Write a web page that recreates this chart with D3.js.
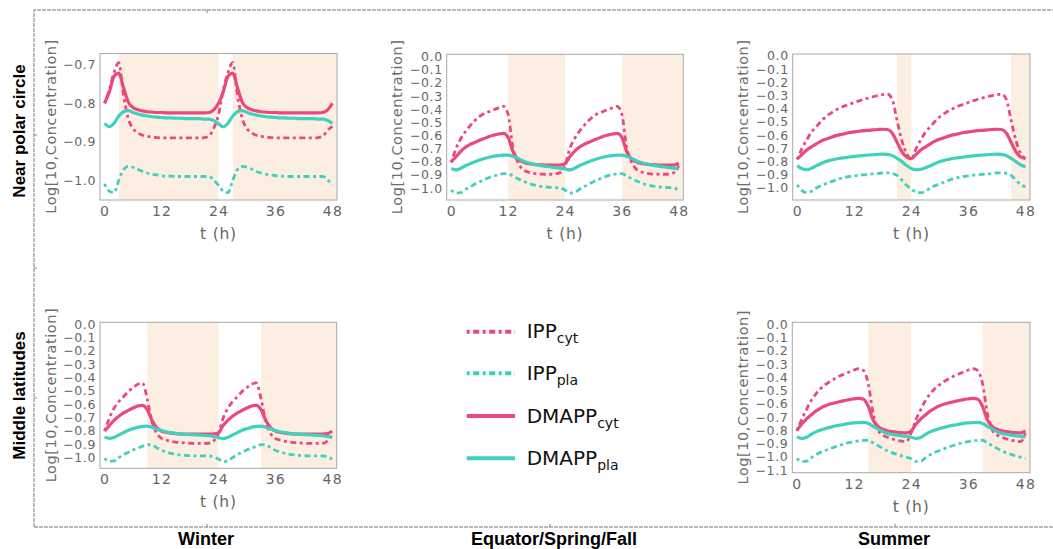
<!DOCTYPE html>
<html>
<head>
<meta charset="utf-8">
<script src="https://cdn.jsdelivr.net/npm/d3@7"></script>
<style>
  body { margin: 0; background: #fff; }
  svg { display: block; }
</style>
</head>
<body>
<div id="viz"></div>
<script>

// time axis, one value per hour
const hours = [0,1,2,3,4,5,6,7,8,9,10,11,12,13,14,15,16,17,18,19,20,21,22,23,24,
  25,26,27,28,29,30,31,32,33,34,35,36,37,38,39,40,41,42,43,44,45,46,47,48];

const xTicks = [0, 12, 24, 36, 48];
const pwTicks = [-0.7, -0.8, -0.9, -1.0];
const tenthTicks = [0, -0.1, -0.2, -0.3, -0.4, -0.5, -0.6, -0.7, -0.8, -0.9, -1.0];
const msuTicks = [0, -0.1, -0.2, -0.3, -0.4, -0.5, -0.6, -0.7, -0.8, -0.9, -1.0, -1.1];

// dark periods (h)
const pwDark = [[3, 24], [27, 49]];
const peqDark = [[12, 24], [36, 49]];
const psuDark = [[21, 24], [45, 49]];
const mwiDark = [[9, 24], [33, 49]];
const msuDark = [[15, 24], [39, 49]];

// near polar circle, winter
const pwIppCyt = [-0.80,-0.765,-0.72,-0.695,-0.78,-0.84,-0.866,-0.877,-0.883,-0.886,-0.888,-0.889,-0.89,-0.89,-0.89,-0.89,-0.89,-0.89,-0.89,-0.89,-0.89,-0.889,-0.885,-0.865,-0.83,
  -0.765,-0.72,-0.695,-0.78,-0.84,-0.866,-0.877,-0.883,-0.886,-0.888,-0.889,-0.89,-0.89,-0.89,-0.89,-0.89,-0.89,-0.89,-0.89,-0.89,-0.889,-0.885,-0.87,-0.86];
const pwIppPla = [-1.009,-1.028,-1.032,-1.0,-0.972,-0.964,-0.966,-0.971,-0.977,-0.981,-0.984,-0.986,-0.988,-0.989,-0.989,-0.99,-0.99,-0.99,-0.99,-0.99,-0.99,-0.99,-0.99,-0.999,-1.013,
  -1.028,-1.032,-1.0,-0.972,-0.964,-0.966,-0.971,-0.977,-0.981,-0.984,-0.986,-0.988,-0.989,-0.989,-0.99,-0.99,-0.99,-0.99,-0.99,-0.99,-0.99,-0.99,-0.999,-1.012];
const pwDmappCyt = [-0.80,-0.771,-0.73,-0.722,-0.76,-0.797,-0.811,-0.817,-0.82,-0.822,-0.823,-0.824,-0.824,-0.825,-0.825,-0.825,-0.825,-0.825,-0.825,-0.825,-0.825,-0.825,-0.824,-0.817,-0.80,
  -0.771,-0.73,-0.722,-0.76,-0.797,-0.811,-0.817,-0.82,-0.822,-0.823,-0.824,-0.824,-0.825,-0.825,-0.825,-0.825,-0.825,-0.825,-0.825,-0.825,-0.825,-0.824,-0.817,-0.80];
const pwDmappPla = [-0.852,-0.861,-0.852,-0.833,-0.822,-0.819,-0.824,-0.828,-0.831,-0.833,-0.835,-0.836,-0.837,-0.838,-0.838,-0.839,-0.839,-0.84,-0.84,-0.84,-0.84,-0.841,-0.841,-0.845,-0.853,
  -0.861,-0.852,-0.833,-0.822,-0.819,-0.824,-0.828,-0.831,-0.833,-0.835,-0.836,-0.837,-0.838,-0.838,-0.839,-0.839,-0.84,-0.84,-0.84,-0.84,-0.841,-0.841,-0.845,-0.852];

// near polar circle, equator/spring/fall
const peqIppCyt = [-0.807,-0.70,-0.625,-0.57,-0.525,-0.485,-0.455,-0.432,-0.418,-0.403,-0.39,-0.378,-0.44,-0.69,-0.80,-0.855,-0.876,-0.886,-0.892,-0.894,-0.895,-0.895,-0.893,-0.882,-0.83,
  -0.70,-0.625,-0.57,-0.525,-0.485,-0.455,-0.432,-0.418,-0.403,-0.39,-0.378,-0.44,-0.69,-0.80,-0.855,-0.876,-0.886,-0.892,-0.894,-0.895,-0.895,-0.893,-0.882,-0.83];
const peqIppPla = [-1.015,-1.038,-1.035,-1.01,-0.99,-0.97,-0.952,-0.935,-0.92,-0.908,-0.898,-0.891,-0.89,-0.908,-0.928,-0.945,-0.96,-0.972,-0.981,-0.988,-0.992,-0.995,-0.997,-1.0,-1.015,
  -1.038,-1.035,-1.01,-0.99,-0.97,-0.952,-0.935,-0.92,-0.908,-0.898,-0.891,-0.89,-0.908,-0.928,-0.945,-0.96,-0.972,-0.981,-0.988,-0.992,-0.995,-0.997,-1.0,-1.018];
const peqDmappCyt = [-0.80,-0.762,-0.72,-0.69,-0.668,-0.652,-0.636,-0.622,-0.607,-0.597,-0.589,-0.584,-0.615,-0.72,-0.78,-0.80,-0.812,-0.818,-0.822,-0.824,-0.825,-0.826,-0.826,-0.825,-0.815,
  -0.762,-0.72,-0.69,-0.668,-0.652,-0.636,-0.622,-0.607,-0.597,-0.589,-0.584,-0.615,-0.72,-0.78,-0.80,-0.812,-0.818,-0.822,-0.824,-0.825,-0.826,-0.826,-0.825,-0.81];
const peqDmappPla = [-0.852,-0.862,-0.85,-0.83,-0.815,-0.80,-0.787,-0.775,-0.766,-0.758,-0.753,-0.75,-0.75,-0.758,-0.772,-0.79,-0.805,-0.815,-0.823,-0.83,-0.835,-0.84,-0.845,-0.85,-0.855,
  -0.862,-0.85,-0.83,-0.815,-0.80,-0.787,-0.775,-0.766,-0.758,-0.753,-0.75,-0.75,-0.758,-0.772,-0.79,-0.805,-0.815,-0.823,-0.83,-0.835,-0.84,-0.845,-0.85,-0.855];

// near polar circle, summer
const psuIppCyt = [-0.785,-0.70,-0.635,-0.575,-0.535,-0.495,-0.46,-0.435,-0.412,-0.395,-0.378,-0.365,-0.352,-0.34,-0.328,-0.318,-0.308,-0.30,-0.292,-0.29,-0.33,-0.49,-0.64,-0.74,-0.785,
  -0.70,-0.635,-0.575,-0.535,-0.495,-0.46,-0.435,-0.412,-0.395,-0.378,-0.365,-0.352,-0.34,-0.328,-0.318,-0.308,-0.30,-0.292,-0.29,-0.33,-0.49,-0.64,-0.74,-0.78];
const psuIppPla = [-0.975,-1.02,-1.035,-1.025,-1.0,-0.982,-0.968,-0.955,-0.94,-0.928,-0.92,-0.913,-0.908,-0.903,-0.90,-0.896,-0.893,-0.89,-0.886,-0.885,-0.89,-0.905,-0.94,-0.98,-1.01,
  -1.03,-1.035,-1.025,-1.0,-0.982,-0.968,-0.955,-0.94,-0.928,-0.92,-0.913,-0.908,-0.903,-0.90,-0.896,-0.893,-0.89,-0.886,-0.885,-0.89,-0.905,-0.94,-0.975,-0.99];
const psuDmappCyt = [-0.78,-0.745,-0.712,-0.688,-0.665,-0.645,-0.63,-0.617,-0.605,-0.596,-0.588,-0.58,-0.575,-0.57,-0.566,-0.563,-0.56,-0.557,-0.555,-0.557,-0.585,-0.655,-0.725,-0.765,-0.778,
  -0.745,-0.712,-0.688,-0.665,-0.645,-0.63,-0.617,-0.605,-0.596,-0.588,-0.58,-0.575,-0.57,-0.566,-0.563,-0.56,-0.557,-0.555,-0.557,-0.585,-0.655,-0.725,-0.765,-0.775];
const psuDmappPla = [-0.83,-0.855,-0.862,-0.85,-0.832,-0.815,-0.80,-0.79,-0.782,-0.775,-0.77,-0.765,-0.76,-0.757,-0.753,-0.75,-0.748,-0.745,-0.743,-0.745,-0.755,-0.775,-0.80,-0.83,-0.852,
  -0.862,-0.858,-0.847,-0.832,-0.815,-0.80,-0.79,-0.782,-0.775,-0.77,-0.765,-0.76,-0.757,-0.753,-0.75,-0.748,-0.745,-0.743,-0.745,-0.755,-0.775,-0.80,-0.825,-0.84];

// middle latitudes, winter
const mwiIppCyt = [-0.80,-0.705,-0.63,-0.58,-0.543,-0.505,-0.475,-0.45,-0.44,-0.56,-0.73,-0.818,-0.855,-0.868,-0.877,-0.883,-0.887,-0.89,-0.892,-0.893,-0.893,-0.893,-0.892,-0.875,-0.82,
  -0.705,-0.63,-0.58,-0.543,-0.505,-0.475,-0.45,-0.44,-0.56,-0.73,-0.818,-0.855,-0.868,-0.877,-0.883,-0.887,-0.89,-0.892,-0.893,-0.893,-0.893,-0.892,-0.875,-0.83];
const mwiIppPla = [-1.005,-1.028,-1.025,-1.0,-0.978,-0.96,-0.943,-0.928,-0.915,-0.902,-0.905,-0.925,-0.945,-0.958,-0.968,-0.975,-0.98,-0.983,-0.985,-0.987,-0.987,-0.987,-0.987,-0.995,-1.01,
  -1.03,-1.025,-1.0,-0.978,-0.96,-0.943,-0.928,-0.915,-0.902,-0.905,-0.925,-0.945,-0.958,-0.968,-0.975,-0.98,-0.983,-0.985,-0.987,-0.987,-0.987,-0.987,-0.995,-1.01];
const mwiDmappCyt = [-0.80,-0.76,-0.72,-0.69,-0.665,-0.645,-0.628,-0.613,-0.608,-0.64,-0.72,-0.775,-0.80,-0.81,-0.816,-0.82,-0.822,-0.824,-0.824,-0.824,-0.824,-0.824,-0.824,-0.822,-0.815,
  -0.76,-0.72,-0.69,-0.665,-0.645,-0.628,-0.613,-0.608,-0.64,-0.72,-0.775,-0.80,-0.81,-0.816,-0.82,-0.822,-0.824,-0.824,-0.824,-0.824,-0.824,-0.824,-0.82,-0.80];
const mwiDmappPla = [-0.845,-0.855,-0.848,-0.83,-0.812,-0.795,-0.783,-0.773,-0.766,-0.764,-0.772,-0.785,-0.797,-0.806,-0.813,-0.818,-0.822,-0.825,-0.827,-0.829,-0.831,-0.833,-0.836,-0.842,-0.85,
  -0.858,-0.848,-0.83,-0.812,-0.795,-0.783,-0.773,-0.766,-0.764,-0.772,-0.785,-0.797,-0.806,-0.813,-0.818,-0.822,-0.825,-0.827,-0.829,-0.831,-0.833,-0.836,-0.842,-0.848];

// middle latitudes, summer
const msuIppCyt = [-0.805,-0.72,-0.645,-0.575,-0.525,-0.485,-0.455,-0.43,-0.41,-0.39,-0.375,-0.36,-0.345,-0.335,-0.35,-0.45,-0.67,-0.795,-0.835,-0.852,-0.865,-0.875,-0.882,-0.885,-0.82,
  -0.72,-0.645,-0.575,-0.525,-0.485,-0.455,-0.43,-0.41,-0.39,-0.375,-0.36,-0.345,-0.335,-0.35,-0.45,-0.67,-0.795,-0.835,-0.852,-0.865,-0.875,-0.882,-0.885,-0.82];
const msuIppPla = [-1.012,-1.035,-1.033,-1.008,-0.985,-0.966,-0.952,-0.938,-0.925,-0.913,-0.902,-0.893,-0.886,-0.88,-0.876,-0.875,-0.895,-0.915,-0.935,-0.955,-0.97,-0.982,-0.993,-1.003,-1.015,
  -1.035,-1.033,-1.008,-0.985,-0.966,-0.952,-0.938,-0.925,-0.913,-0.902,-0.893,-0.886,-0.88,-0.876,-0.875,-0.895,-0.915,-0.935,-0.955,-0.97,-0.982,-0.993,-1.003,-1.013];
const msuDmappCyt = [-0.80,-0.755,-0.715,-0.685,-0.655,-0.632,-0.615,-0.602,-0.592,-0.584,-0.576,-0.568,-0.563,-0.559,-0.565,-0.62,-0.72,-0.77,-0.792,-0.803,-0.81,-0.815,-0.818,-0.82,-0.805,
  -0.755,-0.715,-0.685,-0.655,-0.632,-0.615,-0.602,-0.592,-0.584,-0.576,-0.568,-0.563,-0.559,-0.565,-0.62,-0.72,-0.77,-0.792,-0.803,-0.81,-0.815,-0.818,-0.82,-0.805];
const msuDmappPla = [-0.85,-0.862,-0.855,-0.83,-0.812,-0.798,-0.786,-0.777,-0.768,-0.761,-0.755,-0.748,-0.744,-0.741,-0.74,-0.748,-0.77,-0.79,-0.81,-0.823,-0.831,-0.837,-0.842,-0.846,-0.852,
  -0.862,-0.855,-0.83,-0.812,-0.798,-0.786,-0.777,-0.768,-0.761,-0.755,-0.748,-0.744,-0.741,-0.74,-0.748,-0.77,-0.79,-0.81,-0.823,-0.831,-0.837,-0.842,-0.846,-0.85];

const legendNames = ["IPP", "IPP", "DMAPP", "DMAPP"];
const legendSubs = ["cyt", "pla", "cyt", "pla"];
const rowLabels = ["Near polar circle", "Middle latitudes"];
const colLabels = ["Winter", "Equator/Spring/Fall", "Summer"];

let pink = "#e9497d";
let teal = "#3fd1bd";
let shade = "#fdeee2";
let dotDash = "3,3.5,6,3.5";
let fontMain = "'DejaVu Sans', sans-serif";

// IPPcyt, IPPpla, DMAPPcyt, DMAPPpla
let styles = [
  { color: pink, dash: dotDash, width: 2.8 },
  { color: teal, dash: dotDash, width: 2.8 },
  { color: pink, dash: null, width: 3.2 },
  { color: teal, dash: null, width: 3.2 }
];

let svg = d3.select("#viz").append("svg")
  .attr("width", 1053)
  .attr("height", 549)
  .style("font-family", fontMain);

// outer frame
svg.append("path")
  .attr("d", "M34,527V10H1053M34,527H1053")
  .attr("fill", "none")
  .attr("stroke", "#a2a2a2")
  .attr("stroke-width", 1.4)
  .attr("stroke-dasharray", "4,1");

let frameTicks = [
  [207, 10, 207, 13], [207, 527, 207, 524], [550, 527, 550, 524], [895, 527, 895, 524],
  [34, 135, 37, 135], [34, 268, 37, 268], [34, 398, 37, 398]
];
svg.selectAll(".ftick").data(frameTicks).enter().append("line")
  .attr("x1", d => d[0]).attr("y1", d => d[1]).attr("x2", d => d[2]).attr("y2", d => d[3])
  .attr("stroke", "#888").attr("stroke-width", 1);

let panels = [
  { left: 100, right: 337, top: 53.5, bottom: 200, yDomain: [-1.051, -0.671], yTicks: pwTicks, dark: pwDark,
    series: [pwIppCyt, pwIppPla, pwDmappCyt, pwDmappPla] },
  { left: 446.7, right: 683.3, top: 54.3, bottom: 200, yDomain: [-1.091, 0.018], yTicks: tenthTicks, dark: peqDark,
    series: [peqIppCyt, peqIppPla, peqDmappCyt, peqDmappPla] },
  { left: 792.7, right: 1030, top: 54, bottom: 200, yDomain: [-1.091, 0.015], yTicks: tenthTicks, dark: psuDark,
    series: [psuIppCyt, psuIppPla, psuDmappCyt, psuDmappPla] },
  { left: 100, right: 336.7, top: 322.3, bottom: 468.3, yDomain: [-1.08, 0.015], yTicks: tenthTicks, dark: mwiDark,
    series: [mwiIppCyt, mwiIppPla, mwiDmappCyt, mwiDmappPla] },
  { left: 792.3, right: 1030, top: 322.3, bottom: 472.7, yDomain: [-1.12, 0.015], yTicks: msuTicks, dark: msuDark,
    series: [msuIppCyt, msuIppPla, msuDmappCyt, msuDmappPla] }
];

panels.forEach(function(p, i) {
  let xScale = d3.scaleLinear().domain([-0.96, 48.96]).range([p.left, p.right]);
  let yScale = d3.scaleLinear().domain(p.yDomain).range([p.bottom, p.top]);

  let g = svg.append("g");

  g.append("clipPath").attr("id", "clip" + i)
    .append("rect")
    .attr("x", p.left).attr("y", p.top)
    .attr("width", p.right - p.left).attr("height", p.bottom - p.top);

  let inner = g.append("g").attr("clip-path", `url(#clip${i})`);

  inner.selectAll(".dark")
    .data(p.dark)
    .enter().append("rect")
    .attr("x", d => xScale(d[0]))
    .attr("width", d => xScale(d[1]) - xScale(d[0]))
    .attr("y", p.top)
    .attr("height", p.bottom - p.top)
    .attr("fill", shade);

  let line = d3.line()
    .x((d, k) => xScale(hours[k]))
    .y(d => yScale(d))
    .curve(d3.curveMonotoneX);

  p.series.forEach(function(s, k) {
    inner.append("path")
      .datum(s)
      .attr("fill", "none")
      .attr("stroke", styles[k].color)
      .attr("stroke-width", styles[k].width)
      .attr("stroke-dasharray", styles[k].dash)
      .attr("d", line);
  });

  g.append("rect")
    .attr("x", p.left).attr("y", p.top)
    .attr("width", p.right - p.left).attr("height", p.bottom - p.top)
    .attr("fill", "none")
    .attr("stroke", "#a8a8a8")
    .attr("stroke-width", 1);

  let yAxis = g.append("g")
    .attr("transform", `translate(${p.left},0)`)
    .call(d3.axisLeft(yScale).tickValues(p.yTicks).tickFormat(d3.format(".1f")).tickSize(0).tickPadding(4))
    .attr("font-family", fontMain);
  yAxis.select(".domain").remove();
  yAxis.selectAll("text")
    .style("font-size", "12.5px")
    .style("letter-spacing", "0.6px")
    .attr("fill", "#666");

  let xAxis = g.append("g")
    .attr("transform", `translate(0,${p.bottom})`)
    .call(d3.axisBottom(xScale).tickValues(xTicks).tickSize(0).tickPadding(6))
    .attr("font-family", fontMain);
  xAxis.select(".domain").remove();
  xAxis.selectAll("text")
    .style("font-size", "14px")
    .style("letter-spacing", "1.2px")
    .attr("fill", "#666");

  g.append("text")
    .attr("transform", `translate(${p.left - 44.5},${(p.top + p.bottom) / 2}) rotate(-90)`)
    .attr("text-anchor", "middle")
    .attr("textLength", 174)
    .attr("lengthAdjust", "spacing")
    .style("font-size", "14.5px")
    .attr("fill", "#6e6e6e")
    .text("Log[10,Concentration]");

  g.append("text")
    .attr("x", (p.left + p.right) / 2)
    .attr("y", p.bottom + 39)
    .attr("text-anchor", "middle")
    .style("font-size", "15.5px")
    .style("letter-spacing", "0.8px")
    .attr("fill", "#666")
    .text("t (h)");
});

// legend
let legendRows = [331.7, 373.3, 416, 458.3];
let legend = svg.append("g");
legendNames.forEach(function(name, k) {
  legend.append("line")
    .attr("x1", 466.7).attr("x2", 515)
    .attr("y1", legendRows[k]).attr("y2", legendRows[k])
    .attr("stroke", styles[k].color)
    .attr("stroke-width", 4)
    .attr("stroke-dasharray", styles[k].dash);

  let t = legend.append("text")
    .attr("x", 526.7)
    .attr("y", legendRows[k] + 6.6)
    .style("font-size", "20px")
    .attr("fill", "#111");
  t.append("tspan").text(name);
  t.append("tspan").attr("dy", 5).style("font-size", "14px").text(legendSubs[k]);
});

// row and column headings
let rowY = [131, 395.5];
rowLabels.forEach(function(label, k) {
  svg.append("text")
    .attr("transform", `translate(25,${rowY[k]}) rotate(-90)`)
    .attr("text-anchor", "middle")
    .style("font-family", "'Liberation Sans', Arial, sans-serif")
    .style("font-weight", "bold")
    .style("font-size", "17px")
    .attr("fill", "#000")
    .text(label);
});

let colX = [206, 554, 894];
colLabels.forEach(function(label, k) {
  svg.append("text")
    .attr("x", colX[k])
    .attr("y", 545)
    .attr("text-anchor", "middle")
    .style("font-family", "'Liberation Sans', Arial, sans-serif")
    .style("font-weight", "bold")
    .style("font-size", "18px")
    .attr("fill", "#000")
    .text(label);
});

</script>
</body>
</html>
